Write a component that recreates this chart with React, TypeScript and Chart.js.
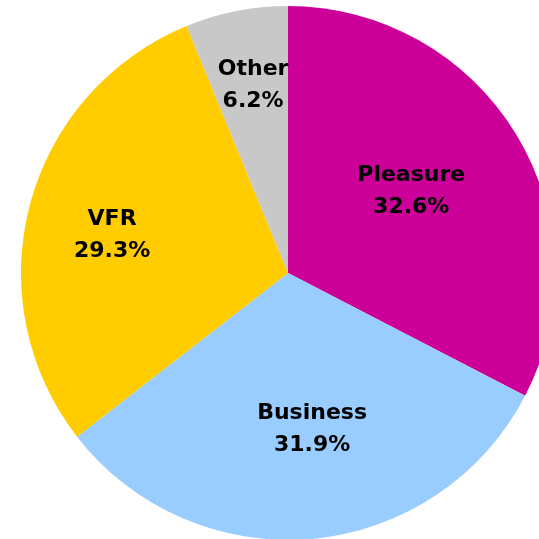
import React, { useEffect, useRef } from "react";
import { Chart, registerables } from "chart.js";

Chart.register(...registerables);

const categories = ["Pleasure", "Business", "VFR", "Other"];
const shares = [32.6, 31.9, 29.3, 6.2];
const colors = ["#CC0099", "#99CCFF", "#FFCC00", "#C8C8C8"];
const labelRadiusFraction = [0.555, 0.588, 0.675, 0.72];
const labelAngleShiftDeg = [-2.4, -3.6, -2.4, 0.7];

const labelPlugin = {
  id: "sliceLabels",
  afterDatasetsDraw(chart: any) {
    const ctx = chart.ctx;
    const meta = chart.getDatasetMeta(0);
    ctx.save();
    ctx.font = "bold 22px 'DejaVu Sans', sans-serif";
    ctx.fillStyle = "#000000";
    ctx.textAlign = "center";
    ctx.textBaseline = "middle";
    meta.data.forEach((arc: any, i: number) => {
      const { x, y, startAngle, endAngle, outerRadius } = arc.getProps(
        ["x", "y", "startAngle", "endAngle", "outerRadius"],
        true
      );
      const mid = (startAngle + endAngle) / 2 + (labelAngleShiftDeg[i] * Math.PI) / 180;
      const r = outerRadius * labelRadiusFraction[i];
      const lx = x + Math.cos(mid) * r;
      const ly = y + Math.sin(mid) * r;
      ctx.fillText(categories[i], lx, ly - 15);
      ctx.fillText(shares[i].toFixed(1) + "%", lx, ly + 17);
    });
    ctx.restore();
  },
};

export default function App() {
  const ref = useRef<HTMLCanvasElement>(null);
  useEffect(() => {
    document.body.style.margin = "0";
    document.body.style.overflow = "hidden";
    const chart = new Chart(ref.current!, {
      type: "pie",
      data: {
        labels: categories,
        datasets: [
          {
            data: shares,
            backgroundColor: colors,
            borderWidth: 0,
          },
        ],
      },
      options: {
        animation: false,
        responsive: false,
        maintainAspectRatio: false,
        layout: { padding: 6 },
        plugins: {
          legend: { display: false },
          tooltip: { enabled: false },
        },
      },
      plugins: [labelPlugin],
    });
    return () => chart.destroy();
  }, []);
  return (
    <div
      style={{
        position: "fixed",
        left: 0,
        top: 0,
        width: 539,
        height: 539,
        overflow: "hidden",
        background: "#ffffff",
      }}
    >
      <canvas
        ref={ref}
        width={576}
        height={546}
        style={{ position: "absolute", left: 0, top: 0, width: 576, height: 546 }}
      />
    </div>
  );
}
